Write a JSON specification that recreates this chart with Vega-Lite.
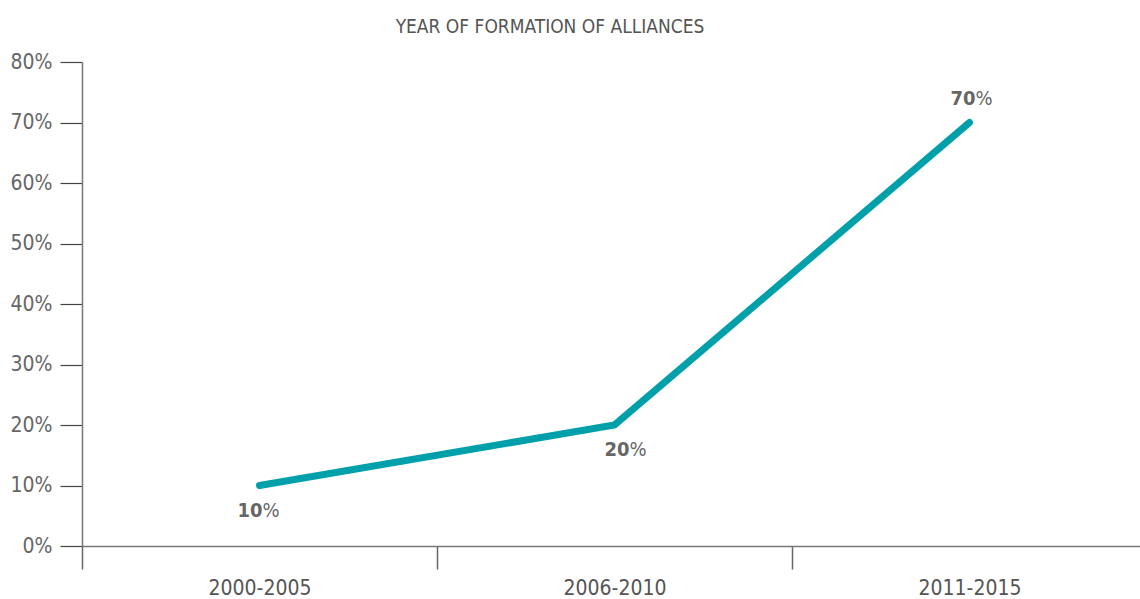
{
  "$schema": "https://vega.github.io/schema/vega-lite/v6.json",
  "autosize": {"type": "none"},
  "padding": {"left": 82, "top": 62, "right": 0, "bottom": 53},
  "width": 1058,
  "height": 484,
  "background": "white",
  "config": {
    "view": {"stroke": null},
    "font": "DejaVu Sans Condensed, sans-serif"
  },
  "title": {
    "text": "YEAR OF FORMATION OF ALLIANCES",
    "font": "DejaVu Sans Condensed, sans-serif",
    "fontSize": 19,
    "fontWeight": "normal",
    "color": "#555555",
    "anchor": "middle",
    "frame": "group",
    "dx": -61,
    "baseline": "alphabetic",
    "offset": -1
  },
  "data": {
    "values": [
      {"period": "2000-2005", "share": 0.10, "num": "10"},
      {"period": "2006-2010", "share": 0.20, "num": "20"},
      {"period": "2011-2015", "share": 0.70, "num": "70"}
    ]
  },
  "encoding": {
    "x": {
      "field": "period",
      "type": "nominal",
      "sort": null,
      "scale": {"range": [0, 1065], "paddingInner": 0, "paddingOuter": 0},
      "axis": {
        "title": null,
        "labelAngle": 0,
        "labelFontSize": 21,
        "labelColor": "#555555",
        "labelPadding": 8,
        "tickBand": "extent",
        "tickSize": 23,
        "tickColor": "#666666",
        "tickWidth": 1.5,
        "domainColor": "#777777",
        "domainWidth": 1.5,
        "grid": false
      }
    },
    "y": {
      "field": "share",
      "type": "quantitative",
      "scale": {"domain": [0, 0.8], "nice": false},
      "axis": {
        "title": null,
        "format": ".0%",
        "values": [0, 0.1, 0.2, 0.3, 0.4, 0.5, 0.6, 0.7, 0.8],
        "labelFontSize": 21,
        "labelColor": "#666666",
        "labelPadding": 8,
        "tickSize": 22,
        "tickColor": "#444444",
        "tickWidth": 1.2,
        "domainColor": "#777777",
        "domainWidth": 1.5,
        "grid": false
      }
    }
  },
  "layer": [
    {
      "mark": {"type": "line", "color": "#00A0AA", "strokeWidth": 7, "strokeCap": "round", "strokeJoin": "miter"}
    },
    {
      "transform": [{"filter": "datum.period === '2000-2005'"}],
      "layer": [
        {"mark": {"type": "text", "align": "right", "baseline": "middle", "dx": 3, "dy": 25, "fontSize": 20, "fontWeight": "bold", "color": "#666666"}, "encoding": {"text": {"field": "num"}}},
        {"mark": {"type": "text", "align": "left", "baseline": "middle", "dx": 3, "dy": 25, "fontSize": 20, "color": "#666666", "text": "%"}}
      ]
    },
    {
      "transform": [{"filter": "datum.period === '2006-2010'"}],
      "layer": [
        {"mark": {"type": "text", "align": "right", "baseline": "middle", "dx": 15, "dy": 25, "fontSize": 20, "fontWeight": "bold", "color": "#666666"}, "encoding": {"text": {"field": "num"}}},
        {"mark": {"type": "text", "align": "left", "baseline": "middle", "dx": 15, "dy": 25, "fontSize": 20, "color": "#666666", "text": "%"}}
      ]
    },
    {
      "transform": [{"filter": "datum.period === '2011-2015'"}],
      "layer": [
        {"mark": {"type": "text", "align": "right", "baseline": "middle", "dx": 6, "dy": -24, "fontSize": 20, "fontWeight": "bold", "color": "#666666"}, "encoding": {"text": {"field": "num"}}},
        {"mark": {"type": "text", "align": "left", "baseline": "middle", "dx": 6, "dy": -24, "fontSize": 20, "color": "#666666", "text": "%"}}
      ]
    }
  ]
}
